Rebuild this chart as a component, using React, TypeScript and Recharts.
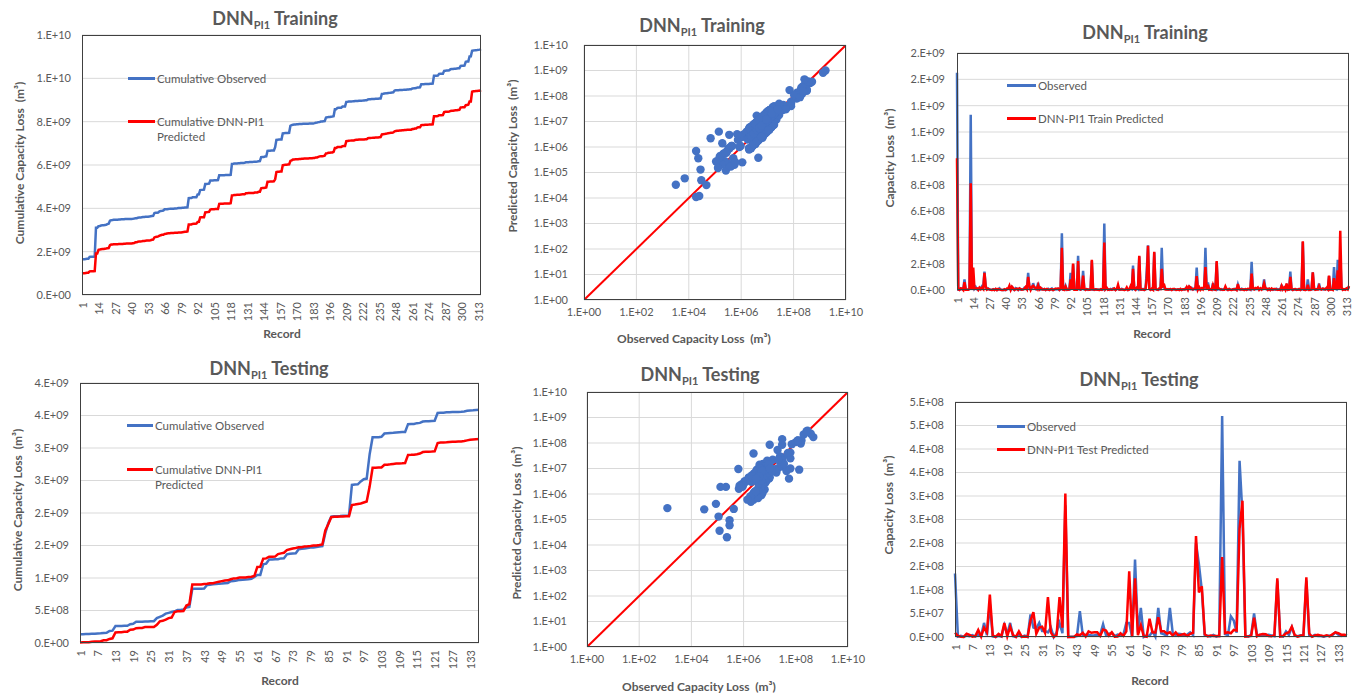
import React from "react";
import { LineChart, Line, XAxis, YAxis, CartesianGrid, ScatterChart, Scatter } from "recharts";

// values in million m³ (x 1e6), one entry per record
const TRAIN_OBS = [
  1650, 2.1, 1.1, 12, 4.8, 4.5, 80, 6.5, 1.8, 3.2,
  8, 1330, 3.5, 70, 9.5, 22, 5.2, 0.16, 15, 14,
  28, 18, 140, 25, 6.8, 11, 3.9, 2.4, 0.025, 5.5,
  0.12, 7.4, 0.0032, 3.1, 12, 0.85, 0.26, 0.007, 2.2, 0.55,
  4.6, 9.5, 16, 3.3, 22, 6.1, 0.21, 14, 8.8, 0.75,
  11, 2.7, 5.2, 3.8, 17, 9.2, 6.4, 130, 12, 4.5,
  9.8, 52, 18, 7.3, 14, 55, 4.2, 3.9, 11, 2.8,
  6.6, 0.019, 3.4, 8.9, 0.31, 5.1, 12, 0.028, 2.3, 7.7,
  4.4, 9.1, 0.42, 6.2, 430, 3, 2, 30, 1.3, 2.5,
  2, 130, 6, 195, 8, 4, 7, 260, 5, 3,
  8, 145, 4, 2, 6, 1.2, 3, 3.5, 220, 2,
  1, 4.5, 1.6, 3, 0.24, 2.6, 1.8, 3.7, 505, 5.8,
  14, 3.1, 0.35, 7.6, 2.2, 11, 4.9, 0.023, 6.7, 18,
  3.6, 1.9, 9.4, 2.6, 0.03, 5.3, 8.2, 0.18, 3.8, 12,
  6.5, 185, 8.5, 3.2, 15, 6.7, 255, 4.1, 2.3, 7.9,
  0.33, 5.6, 150, 340, 9.2, 3.7, 4.4, 2.1, 285, 6.8,
  3.3, 0.27, 4.6, 7.1, 320, 38, 16, 9.5, 4.2, 7.3,
  2.6, 5.8, 0.15, 3.4, 6.9, 0.14, 2.9, 4.5, 0.4, 3.6,
  0.019, 5.2, 2.4, 12, 19, 4.8, 24, 8.5, 15, 3.3,
  9.2, 6.1, 170, 7.4, 18, 4.1, 11, 9.6, 12, 320,
  3.2, 58, 5.1, 4.4, 2.8, 52, 2.5, 1.9, 210, 4.6,
  9.3, 2.1, 6.8, 0.95, 3.7, 12, 5.4, 0.29, 7.2, 2.9,
  0.047, 4.1, 8.6, 3.3, 0.11, 40, 6.5, 2.4, 9.8, 4.3,
  0.5, 5.9, 0.19, 3.6, 7.1, 2.2, 215, 8, 10, 6.3,
  9.8, 8, 4.5, 11, 7, 7.2, 80, 12, 5.3, 2.7,
  8.4, 0.22, 4.6, 0.7, 6.1, 3.2, 9.7, 2.1, 5.5, 0.36,
  40, 3.8, 7.6, 4.2, 28, 2.3, 6.9, 140, 3.6, 0.13,
  5.4, 2.8, 0.068, 4.1, 6.3, 0.6, 3.3, 365, 2.4, 0.25,
  3, 80, 2, 0.45, 4, 135, 6, 4, 5.2, 9.6,
  50, 6, 6.8, 10, 3.4, 8.7, 7, 4.9, 105, 7.3,
  5, 3, 175, 10, 5, 230, 6, 260, 15, 4,
  6, 5.8, 9, 11, 25,
];

const TRAIN_PRED = [
  1000, 5.8, 0.25, 13, 11, 0.38, 60, 2.3, 2, 1.4,
  9, 810, 1.3, 170, 9, 12, 13, 0.45, 17, 6.2,
  18, 7.5, 130, 28, 2.7, 9, 4.5, 0.9, 0.012, 4,
  0.26, 8.5, 0.033, 7.8, 5, 1, 0.12, 0.059, 5.9, 0.2,
  11, 10.5, 33, 1.3, 25, 15, 0.55, 6, 10, 1.9,
  12, 7, 2.1, 4.5, 7.5, 22, 7.5, 100, 28, 1.8,
  24, 32, 20, 17, 6, 36, 5, 17, 4.5, 3.3,
  7.6, 0.7, 8.5, 3.6, 0.22, 6, 5, 0.13, 6, 9,
  10, 10.5, 1.1, 15, 320, 3.5, 0.9, 25, 3.2, 2.8,
  5, 80, 7, 200, 3.5, 4.6, 3, 220, 12, 3.5,
  9, 110, 9.5, 0.8, 7, 3, 1.3, 4, 230, 5,
  2.4, 5, 4, 1.3, 0.28, 6, 2, 9, 360, 6.5,
  16, 1.4, 3, 3.2, 2.5, 5, 12, 0.36, 7.5, 40,
  4.2, 4.5, 4, 3, 0.05, 2.2, 19, 0.21, 4.3, 27,
  2.8, 160, 9.5, 1.4, 17, 15, 260, 4.6, 5.5, 3.4,
  0.9, 6.3, 90, 335, 10.5, 1.6, 10, 2.4, 290, 16,
  3.7, 0.6, 11, 8, 160, 28, 36, 4.1, 4.8, 3.1,
  6, 6.5, 0.4, 8, 7.8, 4, 1.2, 5, 0.17, 8.5,
  0.011, 6, 5.7, 5, 22, 2, 27, 20, 6.5, 3.8,
  10.5, 14, 105, 3.1, 20, 1.7, 12.5, 4, 28, 175,
  3.6, 40, 2.2, 5, 1.2, 36, 6, 2.1, 220, 11,
  10.5, 5, 2.9, 1.1, 1.6, 27, 6, 0.7, 8, 1.2,
  0.032, 4.6, 3.6, 7.8, 0.27, 45, 7.3, 5.7, 4.2, 4.9,
  0.36, 6.6, 1.4, 8.5, 8, 5.2, 125, 9, 4.2, 15,
  11, 19, 1.9, 12.5, 3, 17, 50, 13.5, 12.5, 1.1,
  9.5, 0.55, 11, 3.2, 7, 7.6, 4.1, 2.4, 2.3, 0.9,
  30, 4.3, 18, 1.8, 50, 2.6, 2.9, 100, 8.5, 0.15,
  6, 6.6, 2.2, 1.7, 7, 0.25, 7.8, 370, 2.7, 0.6,
  3.4, 40, 0.85, 1.1, 4.5, 135, 14, 1.7, 5.8, 4,
  30, 6.8, 2.9, 11, 8, 3.7, 16, 5.5, 110, 3,
  5.6, 1.3, 90, 11, 12, 150, 2.5, 450, 20, 1.7,
  6.8, 2.5, 12, 4.6, 30,
];

const TEST_OBS = [
  135, 0.85, 2.4, 0.42, 3.1, 1.6, 4.2, 0.9, 5.5, 2.2,
  30, 3.8, 70, 1.1, 0.0012, 2.6, 0.7, 25, 6.4, 30,
  1.5, 0.031, 4.8, 0.087, 2.9, 0.11, 48, 20, 18, 30,
  13, 13, 10, 20, 0.12, 10, 30, 8, 280, 0.23,
  0.29, 0.29, 2.1, 55, 4, 4.8, 5, 3.2, 4, 5.1,
  5, 27, 4.1, 6.7, 9, 1.9, 5.3, 3.4, 5, 30,
  30, 0.13, 165, 9.5, 62, 0.21, 3.6, 2.4, 12, 0.63,
  62, 8, 5.8, 3.1, 62, 7.4, 4.5, 6.9, 6, 2.7,
  5.2, 9.7, 3.9, 200, 155, 100, 4, 2.6, 1.2, 4.4,
  0.9, 3.6, 470, 6, 4, 44, 35, 9.2, 375, 260,
  2.3, 0.66, 5.2, 50, 3.9, 4, 2.8, 4, 4.6, 3.3,
  1.7, 120, 2.5, 0.95, 12, 4.3, 21, 3, 1.8, 3.7,
  3, 120, 3.2, 1.4, 4.7, 2.1, 2, 0.8, 2.5, 2.9,
  4, 10, 5, 2.2, 4, 3,
];

const TEST_PRED = [
  9, 2.4, 0.6, 0.26, 7, 4.5, 0.9, 1.9, 15, 0.9,
  20, 10, 90, 3.2, 0.28, 6.5, 2.1, 30, 1.5, 22,
  4, 0.25, 12, 0.41, 0.8, 0.13, 35, 53, 7, 20,
  22, 9, 85, 10, 0.036, 4.5, 85, 20, 305, 0.02,
  0.093, 0.059, 5.5, 4, 9, 0.9, 12, 9, 10, 10,
  2.2, 16, 14, 3, 10, 0.5, 1.1, 8, 2.4, 12,
  140, 1.9, 125, 4, 25, 1.9, 0.7, 39, 10, 9.5,
  42, 12, 12, 7.5, 10, 3.2, 10, 2.8, 5, 6.5,
  2.2, 6.8, 9, 215, 95, 108, 6, 1.2, 3, 2,
  2.2, 1.6, 170, 8.4, 10, 8, 15, 14, 230, 290,
  1, 1.6, 2.4, 41, 1.5, 5, 6.5, 6, 2, 1.4,
  4, 125, 1.1, 2.2, 8, 10, 22, 4, 0.8, 2.5,
  4, 127, 7.5, 0.6, 3.3, 4.8, 3, 1.9, 3.5, 1.3,
  6, 10, 8, 5, 5, 4,
];

const CUM_TRAIN_TICKS = [0, 2e9, 4e9, 6e9, 8e9, 1e10, 1.2e10];
const CUM_TEST_TICKS = [0, 5e8, 1e9, 1.5e9, 2e9, 2.5e9, 3e9, 3.5e9, 4e9];
const LOSS_TRAIN_TICKS = [0, 2e8, 4e8, 6e8, 8e8, 1e9, 1.2e9, 1.4e9, 1.6e9, 1.8e9];
const LOSS_TEST_TICKS = [0, 5e7, 1e8, 1.5e8, 2e8, 2.5e8, 3e8, 3.5e8, 4e8, 4.5e8, 5e8];
const LOG_X_TICKS = [1, 1e2, 1e4, 1e6, 1e8, 1e10];
const LOG_Y_TICKS = [1, 1e1, 1e2, 1e3, 1e4, 1e5, 1e6, 1e7, 1e8, 1e9, 1e10];
const ONE_TO_ONE = [{ x: 1, y: 1 }, { x: 1e10, y: 1e10 }];

const BLUE = "#4472C4";
const RED = "#FF0000";
const GRAY = "#595959";
const GRID = "#D9D9D9";
const FONT = "Lato, 'Open Sans', sans-serif";
const MILLION = 1e6;

// Excel "0.E+00" number format
function sci(v: number): string {
  if (v === 0) return "0.E+00";
  let e = Math.floor(Math.log10(Math.abs(v)));
  let m = Math.round(v / Math.pow(10, e));
  if (m >= 10) {
    m = 1;
    e += 1;
  }
  return `${m}.E${e < 0 ? "-" : "+"}${String(Math.abs(e)).padStart(2, "0")}`;
}

function buildRows(obs: number[], pred: number[]) {
  let co = 0;
  let cp = 0;
  return obs.map((o, i) => {
    co += o * MILLION;
    cp += pred[i] * MILLION;
    return { rec: i + 1, obs: o * MILLION, pred: pred[i] * MILLION, cumObs: co, cumPred: cp };
  });
}

function buildPoints(obs: number[], pred: number[]) {
  return obs.map((o, i) => ({ x: o * MILLION, y: pred[i] * MILLION }));
}

const trainRows = buildRows(TRAIN_OBS, TRAIN_PRED);
const testRows = buildRows(TEST_OBS, TEST_PRED);
const trainPoints = buildPoints(TRAIN_OBS, TRAIN_PRED);
const testPoints = buildPoints(TEST_OBS, TEST_PRED);

type Box = { l: number; r: number; t: number; b: number };

const RotTick = (props: any) => {
  const { x, y, payload } = props;
  const ty = y - 1;
  return (
    <text
      x={x}
      y={ty}
      transform={`rotate(-90 ${x} ${ty})`}
      textAnchor="end"
      dominantBaseline="central"
      fontSize={11}
      fill={GRAY}
      fontFamily={FONT}
    >
      {payload.value}
    </text>
  );
};

const Dot = (props: any) => <circle cx={props.cx} cy={props.cy} r={4.2} fill={BLUE} />;
const NoDot = () => <g />;

function Border({ box }: { box: Box }) {
  return (
    <div
      style={{
        position: "absolute",
        left: box.l,
        top: box.t,
        width: box.r - box.l,
        height: box.b - box.t,
        border: "1px solid #404040",
        boxSizing: "border-box",
        pointerEvents: "none",
      }}
    />
  );
}

function Title({ x, y, label }: { x: number; y: number; label: string }) {
  return (
    <div
      style={{
        position: "absolute",
        left: x,
        top: y,
        transform: "translate(-50%, -50%)",
        whiteSpace: "nowrap",
        fontFamily: FONT,
        fontWeight: 700,
        fontSize: 18,
        color: GRAY,
      }}
    >
      DNN<span style={{ fontSize: 11, position: "relative", top: 4 }}>PI1</span> {label}
    </div>
  );
}

function AxisTitle({ x, y, text, vertical }: { x: number; y: number; text: string; vertical?: boolean }) {
  return (
    <div
      style={{
        position: "absolute",
        left: x,
        top: y,
        transform: `translate(-50%, -50%)${vertical ? " rotate(-90deg)" : ""}`,
        whiteSpace: "pre",
        fontFamily: FONT,
        fontWeight: 700,
        fontSize: 12,
        color: GRAY,
      }}
    >
      {text}
    </div>
  );
}

function LegendItem({ x1, x2, y, color, lines }: { x1: number; x2: number; y: number; color: string; lines: string[] }) {
  return (
    <>
      <div style={{ position: "absolute", left: x1, top: y - 1.5, width: x2 - x1, height: 3, background: color }} />
      {lines.map((t, i) => (
        <div
          key={t}
          style={{
            position: "absolute",
            left: x2 + 2,
            top: y + i * 15,
            transform: "translateY(-50%)",
            whiteSpace: "nowrap",
            fontFamily: FONT,
            fontSize: 11.5,
            color: GRAY,
          }}
        >
          {t}
        </div>
      ))}
    </>
  );
}

type LineProps = {
  left: number;
  top: number;
  width: number;
  height: number;
  box: Box;
  rows: any[];
  obsKey: string;
  predKey: string;
  yTicks: number[];
  interval: number;
  tickMargin: number;
};

function LinePanel({ left, top, width, height, box, rows, obsKey, predKey, yTicks, interval, tickMargin }: LineProps) {
  return (
    <div style={{ position: "absolute", left, top, width, height }}>
      <LineChart
        width={width}
        height={height}
        data={rows}
        margin={{ top: box.t - top, right: left + width - box.r, bottom: 0, left: 0 }}
        style={{ fontFamily: FONT }}
      >
        <CartesianGrid vertical={false} stroke={GRID} />
        {/* small category marks under the axis */}
        <XAxis
          xAxisId="marks"
          dataKey="rec"
          scale="point"
          padding={{ left: 0, right: 0 }}
          interval={0}
          tick={false}
          tickLine={{ stroke: "#C8C8C8" }}
          tickSize={4}
          axisLine={false}
          height={0}
        />
        <XAxis
          dataKey="rec"
          scale="point"
          padding={{ left: 0, right: 0 }}
          interval={interval}
          tickLine={false}
          axisLine={false}
          height={top + height - box.b}
          tick={<RotTick />}
        />
        <YAxis
          type="number"
          domain={[0, yTicks[yTicks.length - 1]]}
          ticks={yTicks}
          tickFormatter={sci}
          width={box.l - left}
          tickLine={false}
          axisLine={false}
          tickMargin={tickMargin}
          tick={{ fontSize: 11, fill: GRAY }}
        />
        <Line dataKey={obsKey} stroke={BLUE} strokeWidth={2.5} dot={false} isAnimationActive={false} />
        <Line dataKey={predKey} stroke={RED} strokeWidth={2.5} dot={false} isAnimationActive={false} />
      </LineChart>
    </div>
  );
}

type ScatterProps = {
  left: number;
  top: number;
  width: number;
  height: number;
  box: Box;
  points: { x: number; y: number }[];
  tickMargin: number;
};

function ScatterPanel({ left, top, width, height, box, points, tickMargin }: ScatterProps) {
  return (
    <div style={{ position: "absolute", left, top, width, height }}>
      <ScatterChart
        width={width}
        height={height}
        margin={{ top: box.t - top, right: left + width - box.r, bottom: 0, left: 0 }}
        style={{ fontFamily: FONT }}
      >
        <CartesianGrid stroke={GRID} />
        <XAxis
          type="number"
          dataKey="x"
          scale="log"
          domain={[1, 1e10]}
          ticks={LOG_X_TICKS}
          tickFormatter={sci}
          allowDataOverflow
          tickLine={false}
          axisLine={false}
          height={top + height - box.b}
          tick={{ fontSize: 11, fill: GRAY }}
        />
        <YAxis
          type="number"
          dataKey="y"
          scale="log"
          domain={[1, 1e10]}
          ticks={LOG_Y_TICKS}
          tickFormatter={sci}
          allowDataOverflow
          tickLine={false}
          axisLine={false}
          width={box.l - left}
          tickMargin={tickMargin}
          tick={{ fontSize: 11, fill: GRAY }}
        />
        <Scatter data={ONE_TO_ONE} line={{ stroke: RED, strokeWidth: 2 }} shape={NoDot} isAnimationActive={false} />
        <Scatter data={points} shape={Dot} isAnimationActive={false} />
      </ScatterChart>
    </div>
  );
}

const B1: Box = { l: 82, r: 481, t: 35, b: 295 };
const B2: Box = { l: 584, r: 846, t: 45, b: 300 };
const B3: Box = { l: 957, r: 1349, t: 53, b: 290 };
const B4: Box = { l: 80, r: 479, t: 383, b: 643 };
const B5: Box = { l: 587, r: 848, t: 392, b: 647 };
const B6: Box = { l: 955, r: 1347, t: 402, b: 637 };

export default function App() {
  return (
    <div style={{ position: "absolute", left: 0, top: 0, width: 1356, height: 698, background: "#fff", overflow: "hidden" }}>
      <LinePanel left={0} top={0} width={490} height={345} box={B1} rows={trainRows} obsKey="cumObs" predKey="cumPred" yTicks={CUM_TRAIN_TICKS} interval={12} tickMargin={5} />
      <ScatterPanel left={490} top={0} width={380} height={345} box={B2} points={trainPoints} tickMargin={10} />
      <LinePanel left={870} top={0} width={486} height={345} box={B3} rows={trainRows} obsKey="obs" predKey="pred" yTicks={LOSS_TRAIN_TICKS} interval={12} tickMargin={6} />
      <LinePanel left={0} top={350} width={490} height={348} box={B4} rows={testRows} obsKey="cumObs" predKey="cumPred" yTicks={CUM_TEST_TICKS} interval={5} tickMargin={5} />
      <ScatterPanel left={490} top={350} width={380} height={348} box={B5} points={testPoints} tickMargin={14} />
      <LinePanel left={870} top={350} width={486} height={348} box={B6} rows={testRows} obsKey="obs" predKey="pred" yTicks={LOSS_TEST_TICKS} interval={5} tickMargin={5} />

      {[B1, B2, B3, B4, B5, B6].map((b, i) => (
        <Border key={i} box={b} />
      ))}

      <Title x={275} y={18} label="Training" />
      <Title x={702} y={25} label="Training" />
      <Title x={1145} y={32} label="Training" />
      <Title x={269} y={368} label="Testing" />
      <Title x={700} y={374} label="Testing" />
      <Title x={1139} y={379} label="Testing" />

      <AxisTitle x={282} y={333} text="Record" />
      <AxisTitle x={19} y={163} text="Cumulative Capacity Loss  (m³)" vertical />
      <AxisTitle x={694} y={338} text="Observed Capacity Loss  (m³)" />
      <AxisTitle x={512} y={156} text="Predicted Capacity Loss  (m³)" vertical />
      <AxisTitle x={1152} y={333} text="Record" />
      <AxisTitle x={889} y={158} text="Capacity Loss  (m³)" vertical />
      <AxisTitle x={280} y={680} text="Record" />
      <AxisTitle x={17} y={510} text="Cumulative Capacity Loss  (m³)" vertical />
      <AxisTitle x={699} y={686} text="Observed Capacity Loss  (m³)" />
      <AxisTitle x={516} y={523} text="Predicted Capacity Loss  (m³)" vertical />
      <AxisTitle x={1150} y={680} text="Record" />
      <AxisTitle x={888} y={505} text="Capacity Loss  (m³)" vertical />

      <LegendItem x1={128} x2={155} y={78} color={BLUE} lines={["Cumulative Observed"]} />
      <LegendItem x1={128} x2={155} y={121} color={RED} lines={["Cumulative DNN-PI1", "Predicted"]} />
      <LegendItem x1={127} x2={153} y={425} color={BLUE} lines={["Cumulative Observed"]} />
      <LegendItem x1={127} x2={153} y={469} color={RED} lines={["Cumulative DNN-PI1", "Predicted"]} />
      <LegendItem x1={1007} x2={1036} y={85} color={BLUE} lines={["Observed"]} />
      <LegendItem x1={1007} x2={1036} y={118} color={RED} lines={["DNN-PI1 Train Predicted"]} />
      <LegendItem x1={997} x2={1025} y={426} color={BLUE} lines={["Observed"]} />
      <LegendItem x1={997} x2={1025} y={449} color={RED} lines={["DNN-PI1 Test Predicted"]} />
    </div>
  );
}
